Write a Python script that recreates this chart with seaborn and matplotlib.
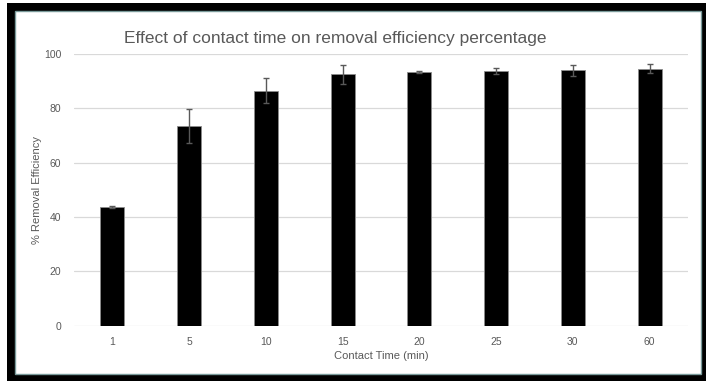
import pandas as pd
import numpy as np
import seaborn as sns
import matplotlib.pyplot as plt
from matplotlib.patches import Rectangle

# data
contact_time = ['1', '5', '10', '15', '20', '25', '30', '60']
removal_eff = [43.5, 73.5, 86.5, 92.5, 93.4, 93.8, 94.0, 94.6]
err = [0.4, 6.3, 4.7, 3.6, 0.4, 1.2, 2.1, 1.6]

df = pd.DataFrame({'Contact Time': contact_time, 'Removal': removal_eff, 'Err': err})

sns.set_theme(style='white')
plt.rcParams['font.family'] = ['Liberation Sans', 'DejaVu Sans']

grey = '#595959'
fig = plt.figure(figsize=(7.06, 3.81), dpi=100)

# black frame like the screenshot
W, H = 706, 381
fig.patches.append(Rectangle((7 / W, 0), 1 - 7 / W, 1 - 3 / H, transform=fig.transFigure,
                             facecolor='black', edgecolor='none', zorder=-10))
fig.patches.append(Rectangle((15 / W, 7 / H), (701 - 15) / W, (374 - 11) / H, transform=fig.transFigure,
                             facecolor='white', edgecolor='#7a9a9a', linewidth=1, zorder=-9))

ax = fig.add_axes([74 / W, (H - 325.5) / H, 614 / W, 271.5 / H])
ax.patch.set_alpha(0)

sns.barplot(data=df, x='Contact Time', y='Removal', order=contact_time, color='black',
            width=0.31, edgecolor='#8c8c8c', linewidth=0.6, saturation=1, ax=ax, zorder=3)
ax.errorbar(np.arange(len(contact_time)), df['Removal'], yerr=df['Err'], fmt='none',
            ecolor=grey, elinewidth=1, capsize=2, capthick=1, zorder=4)

ax.set_ylim(0, 100)
ax.set_yticks(np.arange(0, 101, 20))
ax.set_xlim(-0.5, len(contact_time) - 0.5)
ax.yaxis.grid(True, color='#d9d9d9', linewidth=0.9)
ax.set_axisbelow(True)
for s in ax.spines.values():
    s.set_visible(False)
ax.tick_params(axis='both', length=0, labelsize=7.5, labelcolor=grey)
ax.tick_params(axis='y', pad=9)
ax.tick_params(axis='x', pad=8)

ax.set_xlabel('Contact Time (min)', fontsize=8, color=grey, labelpad=3)
ax.set_ylabel('% Removal Efficiency', fontsize=8, color=grey)
ax.yaxis.set_label_coords(-32 / 614, 0.5)

fig.text(124 / W, 1 - 39 / H, 'Effect of contact time on removal efficiency percentage',
         fontsize=12.5, color=grey, ha='left', va='center')

fig.savefig('out.png', dpi=100)
